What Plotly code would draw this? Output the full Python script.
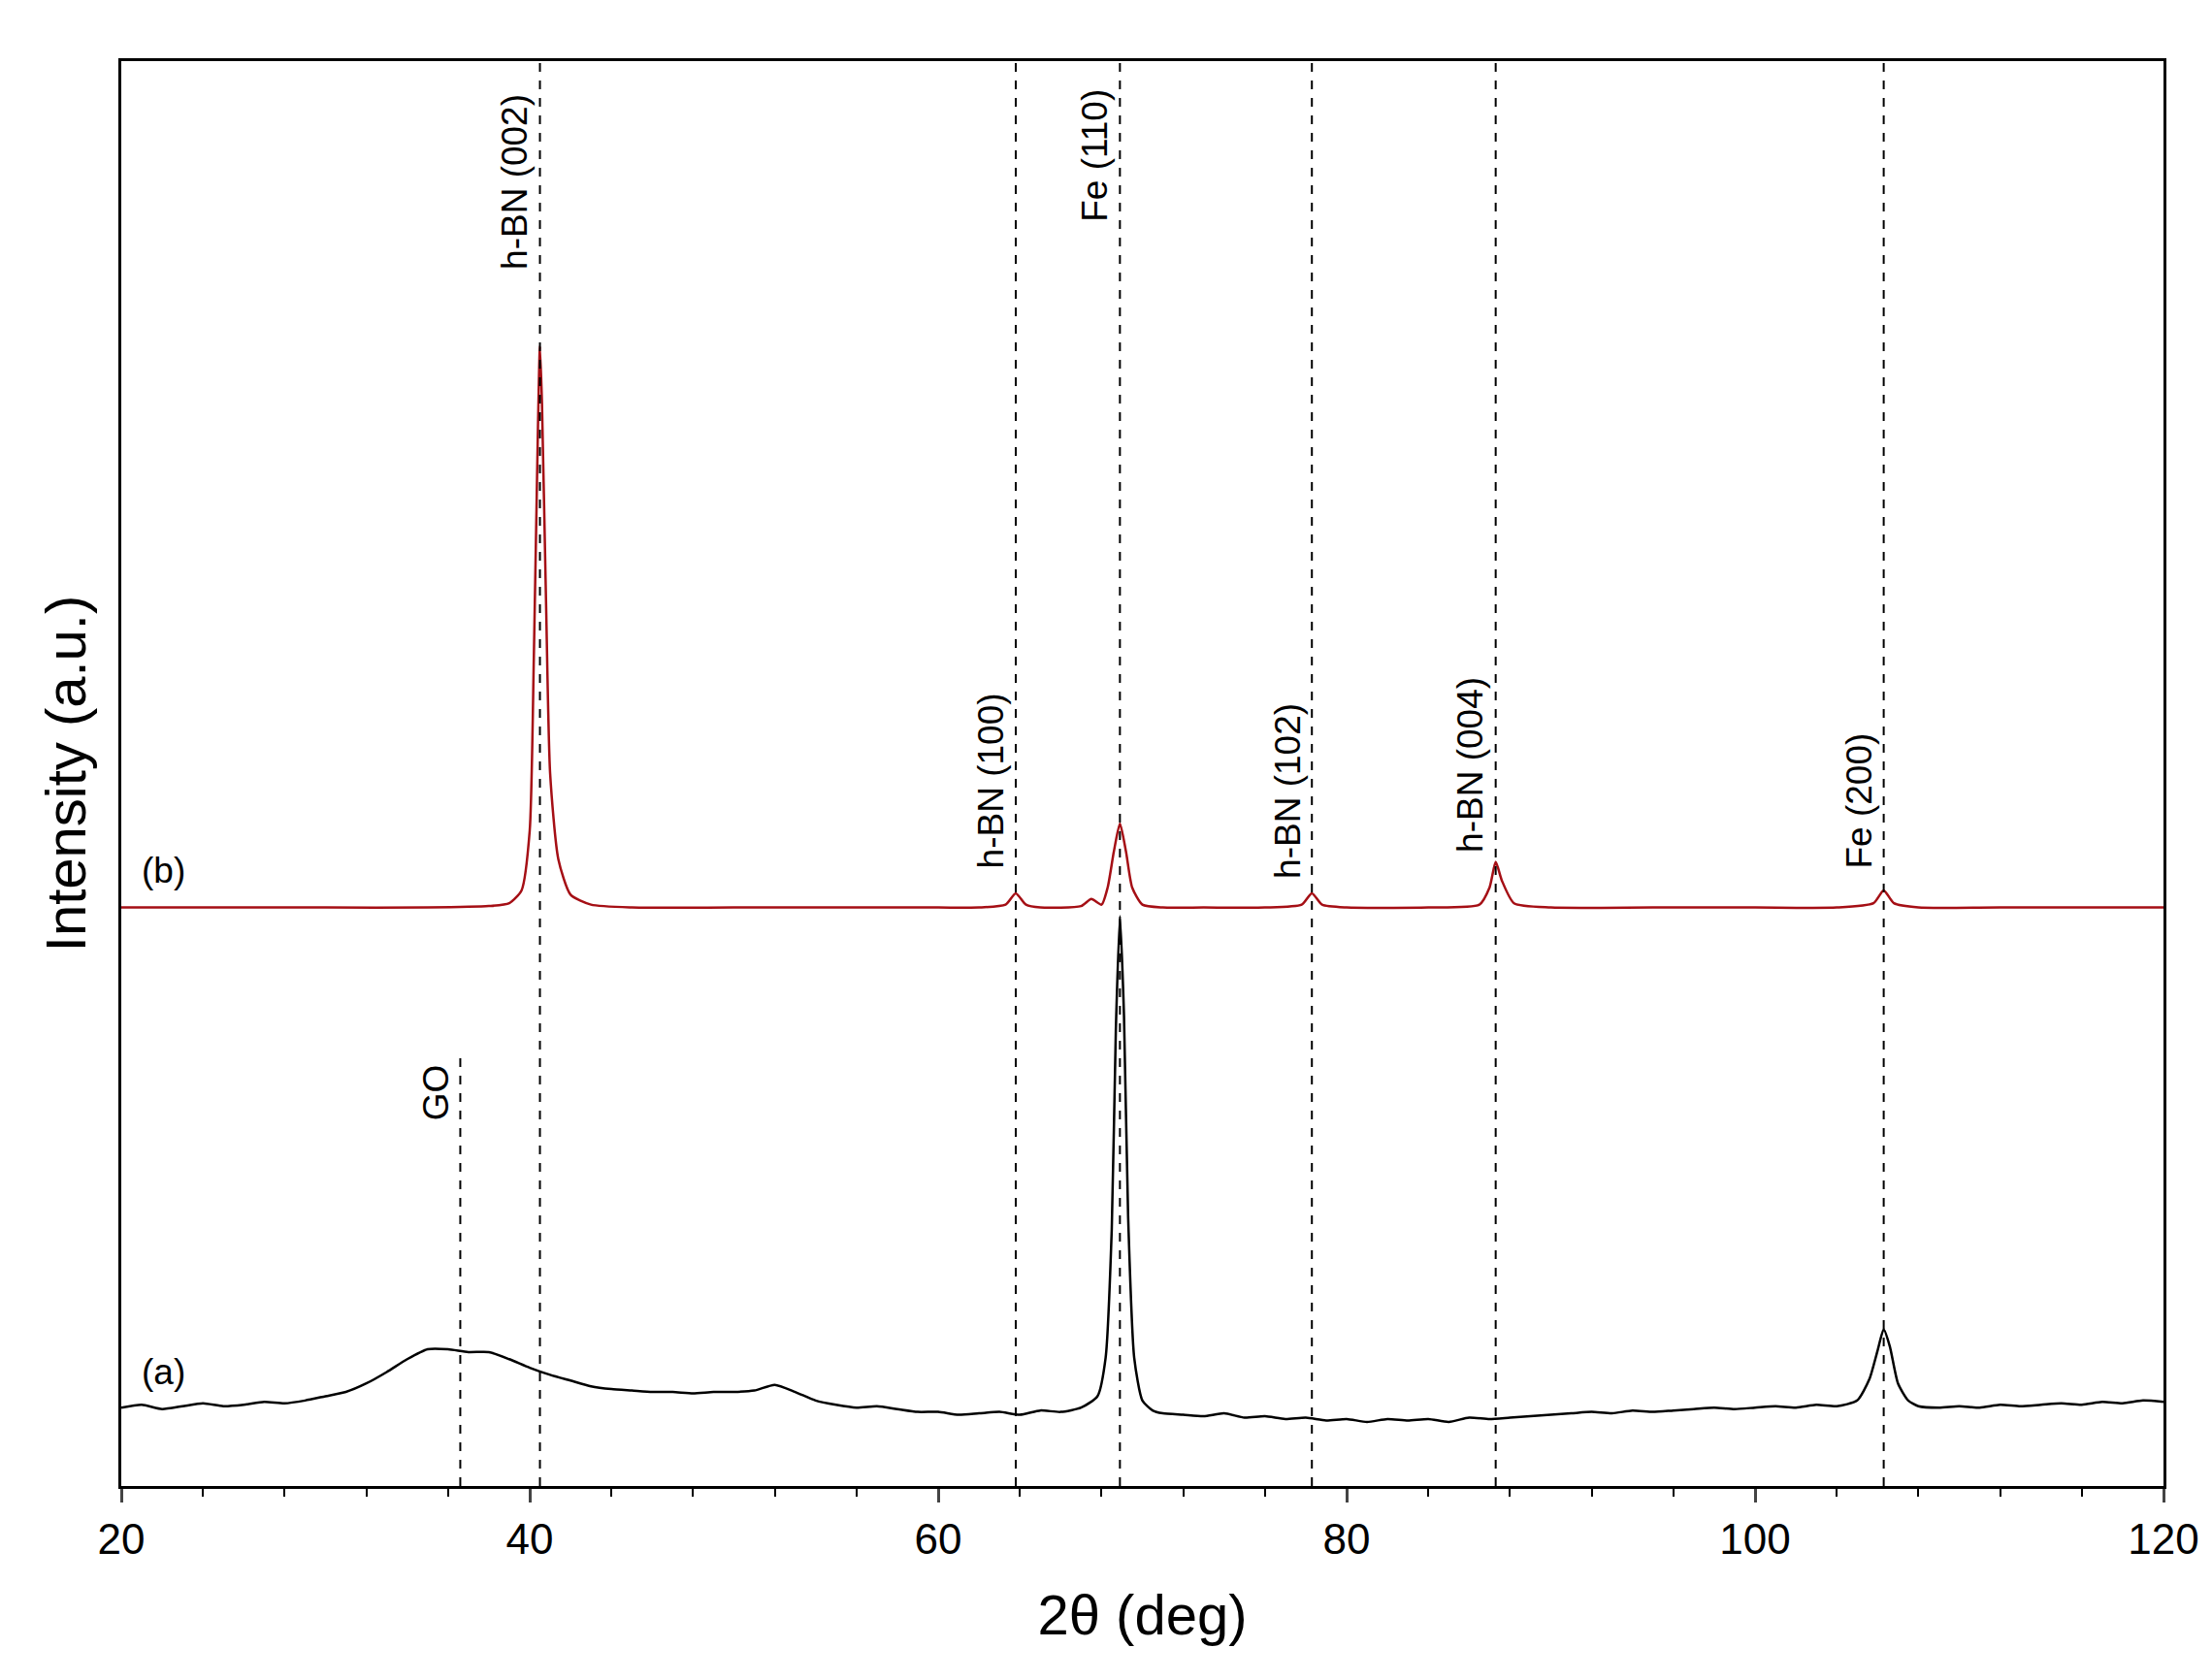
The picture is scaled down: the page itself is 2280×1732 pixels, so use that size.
import plotly.graph_objects as go

# Curve (a)
xa = [20,21,22,23,24,25,26,27,28,29,30,31,32,33,34,35,36,37,38,39,40,41,42,43,44,45,46,47,48,49,50,51,52,53,54,55,56,57,58,59,60,61,62,63,64,65,66,67,67.8,68.2,68.5,68.7,68.9,69.1,69.3,69.6,70,70.5,71,72,73,74,75,76,77,78,79,80,81,82,83,84,85,86,87,88,89,90,91,92,93,94,95,96,97,98,99,100,101,102,103,104,105,105.6,106.0,106.3,106.6,107,107.5,108,109,110,111,112,113,114,115,116,117,118,119,120]
ya = [5.5,5.7,5.4,5.6,5.8,5.6,5.7,5.9,5.8,6.0,6.3,6.6,7.2,8.0,8.9,9.6,9.6,9.4,9.4,8.9,8.3,7.8,7.4,7.0,6.8,6.7,6.6,6.6,6.5,6.6,6.6,6.7,7.1,6.6,6.0,5.7,5.5,5.6,5.4,5.2,5.2,5.0,5.1,5.2,5.0,5.3,5.2,5.5,6.3,9.0,18.0,32.0,40.0,33.0,19.0,9.0,6.0,5.3,5.1,5.0,4.9,5.1,4.8,4.9,4.7,4.8,4.6,4.7,4.5,4.7,4.6,4.7,4.5,4.8,4.7,4.8,4.9,5.0,5.1,5.2,5.1,5.3,5.2,5.3,5.4,5.5,5.4,5.5,5.6,5.5,5.7,5.6,6.0,7.5,9.5,11.0,9.8,7.2,6.0,5.6,5.5,5.6,5.5,5.7,5.6,5.7,5.8,5.7,5.9,5.8,6.0,5.9]

# Curve (b)
xb = [20,25,30,35,38,39,39.6,40.0,40.2,40.4,40.5,40.6,40.8,41.0,41.4,42,43,45,50,55,60,62,63.3,63.8,64.3,65,67,67.5,68,68.3,68.6,68.9,69.2,69.5,70,71,73,76,77.8,78.3,78.8,80,84,86.5,87.0,87.3,87.6,88.2,90,95,100,104,105.8,106.3,106.8,108,112,116,120]
yb = [40.6,40.6,40.6,40.6,40.7,40.9,41.8,46.0,58.0,74.0,80.0,76.0,62.0,50.0,44.0,41.5,40.8,40.6,40.6,40.6,40.6,40.6,40.8,41.6,40.8,40.6,40.7,41.2,40.8,42.0,44.5,46.5,44.5,42.0,40.8,40.6,40.6,40.6,40.8,41.6,40.8,40.6,40.6,40.8,42.0,43.8,42.5,40.9,40.6,40.6,40.6,40.6,40.9,41.8,40.9,40.6,40.6,40.6,40.6]

ref_x = [36.6, 40.5, 63.8, 68.9, 78.3, 87.3, 106.3]
ref_top = [30.2, 100, 100, 100, 100, 100, 100]
labels = ["GO", "h-BN (002)", "h-BN (100)", "Fe (110)", "h-BN (102)", "h-BN (004)", "Fe (200)"]
label_y = [25.5, 85.2, 43.2, 88.6, 42.5, 44.3, 43.2]  # bottom of text (data units)

FONT = "Liberation Sans"
fig = go.Figure()
fig.add_trace(go.Scatter(x=xa, y=ya, mode="lines", line=dict(color="black", width=2.5, shape="spline", smoothing=0.6), showlegend=False))
fig.add_trace(go.Scatter(x=xb, y=yb, mode="lines", line=dict(color="#a50f15", width=2.5, shape="spline", smoothing=0.6), showlegend=False))

for x, t in zip(ref_x, ref_top):
    fig.add_shape(type="line", x0=x, x1=x, y0=0, y1=t, xref="x", yref="y",
                  line=dict(color="black", width=2, dash="dash"))
for x, t, y in zip(ref_x, labels, label_y):
    fig.add_annotation(x=x, y=y, text=t, textangle=-90, showarrow=False,
                       xanchor="right", yanchor="bottom", xshift=-3,
                       font=dict(size=37, color="black", family=FONT))
fig.add_annotation(x=20.9, y=8.0, text="(a)", showarrow=False, xanchor="left",
                   font=dict(size=37, color="black", family=FONT))
fig.add_annotation(x=20.9, y=43.2, text="(b)", showarrow=False, xanchor="left",
                   font=dict(size=37, color="black", family=FONT))

fig.update_layout(
    width=2280, height=1732, plot_bgcolor="white", paper_bgcolor="white",
    margin=dict(l=117, r=58, t=55, b=208),
    font=dict(family=FONT, color="black"),
    xaxis=dict(range=[20, 120], tickvals=[20, 40, 60, 80, 100, 120], ticks="outside",
               ticklen=14, tickwidth=2.5, showline=True, linewidth=3, linecolor="black",
               mirror=True, showgrid=False, zeroline=False,
               minor=dict(dtick=4, tick0=20, ticks="outside", ticklen=8, tickwidth=2, tickcolor="black"),
               tickfont=dict(size=44), title=dict(text="2θ (deg)", font=dict(size=58), standoff=35)),
    yaxis=dict(range=[0, 100], showticklabels=False, ticks="", showline=True, linewidth=3,
               linecolor="black", mirror=True, showgrid=False, zeroline=False,
               title=dict(text="Intensity (a.u.)", font=dict(size=58), standoff=15)),
)
fig.write_html("out.html")
